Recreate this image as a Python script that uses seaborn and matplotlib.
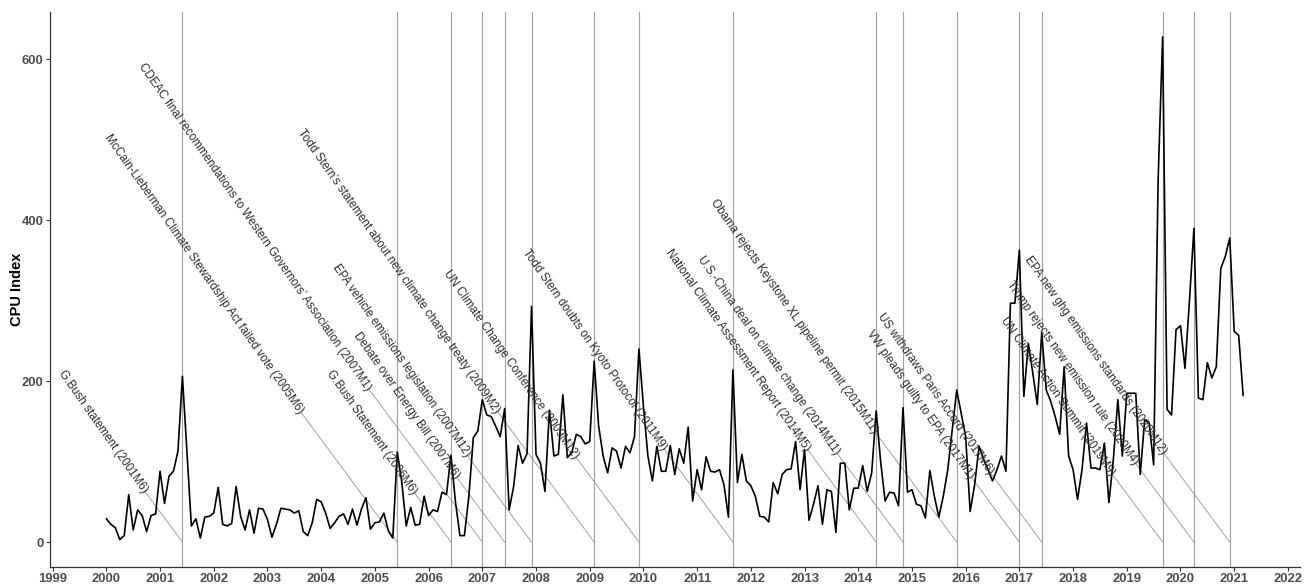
import numpy as np
import pandas as pd
import matplotlib
matplotlib.use("Agg")
import matplotlib.pyplot as plt
import seaborn as sns

# Monthly climate policy uncertainty index, 2000M1 onwards
start_year = 2000
cpu_index = [
    29, 22, 18, 3, 8, 59, 15, 40, 33, 13, 33, 35,
    88, 48, 82, 88, 113, 206, 113, 20, 29, 5, 31, 32,
    36, 68, 22, 20, 23, 69, 32, 15, 40, 11, 42, 41,
    28, 6, 22, 42, 41, 40, 36, 39, 13, 8, 24, 53,
    50, 36, 17, 24, 32, 35, 22, 41, 21, 41, 55, 16,
    24, 25, 36, 14, 5, 112, 75, 20, 43, 21, 22, 57,
    33, 40, 38, 62, 59, 108, 50, 8, 8, 57, 130, 138,
    177, 158, 156, 144, 131, 166, 40, 69, 120, 98, 110, 293,
    109, 98, 63, 164, 107, 109, 183, 105, 111, 134, 131, 122,
    125, 225, 144, 107, 86, 117, 113, 92, 119, 111, 131, 240,
    169, 107, 76, 119, 88, 88, 120, 84, 116, 98, 143, 51,
    90, 65, 106, 88, 87, 90, 71, 31, 214, 74, 109, 76,
    70, 57, 32, 31, 25, 74, 60, 84, 90, 91, 125, 65,
    115, 27, 47, 70, 22, 65, 63, 12, 98, 98, 40, 67,
    67, 95, 63, 86, 163, 100, 51, 62, 61, 45, 167, 62,
    65, 47, 45, 30, 89, 57, 31, 57, 90, 140, 189, 160,
    131, 38, 71, 119, 103, 90, 76, 90, 107, 88, 297, 297,
    363, 181, 247, 210, 171, 260, 189, 175, 156, 134, 218, 107,
    90, 53, 90, 148, 92, 92, 90, 123, 49, 103, 177, 107,
    185, 185, 185, 84, 152, 148, 96, 450, 628, 165, 158, 264,
    269, 216, 300, 390, 179, 177, 223, 204, 218, 340, 355, 378,
    262, 257, 182,
]

# Policy events marked on the chart
event_names = [
    "G.Bush statement",
    "McCain-Lieberman Climate Stewardship Act failed vote",
    "G.Bush Statement",
    "CDEAC final recommendations to Western Governors\u2019 Association",
    "Debate over Energy Bill",
    "EPA vehicle emissions legislation",
    "Todd Stern\u2019s statement about new climate change treaty",
    "UN Climate Change Conference",
    "Todd Stern doubts on Kyoto Protocol",
    "National Climate Assessment Report",
    "U.S.-China deal on climate change",
    "Obama rejects Keystone XL pipeline permit",
    "VW pleads guilty to EPA",
    "US withdraws Paris Accord",
    "UN Climate Action Summit",
    "Trump rejects new emission rule",
    "EPA new ghg emissions standards",
]
event_dates = [
    "2001M6", "2005M6", "2006M6", "2007M1", "2007M6", "2007M12",
    "2009M2", "2009M12", "2011M9", "2014M5", "2014M11", "2015M11",
    "2017M1", "2017M6", "2019M9", "2020M4", "2020M12",
]

# Layout of the annotation leaders: height of each label end, and leader slope
label_heights = [63, 161, 61, 190, 80, 107, 162, 105, 115, 115, 110, 136,
                 80, 86, 84, 98, 111]
leader_slope = 90.0  # index units per year


def to_year(code):
    y, m = code.split("M")
    return int(y) + (int(m) - 1) / 12.0


sns.set_theme(style="ticks")
plt.rcParams["font.family"] = ["Liberation Sans", "DejaVu Sans"]

W, H = 1312, 586
fig = plt.figure(figsize=(W / 100, H / 100), dpi=100)
left, right, top, bottom = 49.5, 1300, 11.7, 567.3
ax = fig.add_axes([left / W, (H - bottom) / H, (right - left) / W, (bottom - top) / H])

df = pd.DataFrame({
    "year": start_year + np.arange(len(cpu_index)) / 12.0,
    "CPU Index": cpu_index,
})

# event markers: vertical rules, leader segments and rotated labels
for name, code, h in zip(event_names, event_dates, label_heights):
    x0 = to_year(code)
    ax.axvline(x0, color="#a3a3a3", lw=0.85, zorder=1)
    xl = x0 - h / leader_slope
    ax.plot([x0, xl], [0, h], color="#8c8c8c", lw=0.55, zorder=1)
    ax.text(xl, h, f"{name} ({code})", rotation=-55, rotation_mode="anchor",
            ha="right", va="center", fontsize=8.4, color="#2e2e2e", zorder=3)

sns.lineplot(data=df, x="year", y="CPU Index", color="black", lw=1.2, ax=ax, zorder=2)

t0, t1 = df["year"].min(), df["year"].max()
pad = 0.05 * (t1 - t0)
ax.set_xlim(t0 - pad, t1 + pad)
ymax = max(cpu_index)
ax.set_ylim(-0.05 * ymax, ymax * 1.05)

ax.set_xticks(np.arange(1999, 2023))
ax.set_yticks([0, 200, 400, 600])
ax.set_xlabel("")
ax.set_ylabel("CPU Index", fontsize=10.5, fontweight="bold", color="black")
ax.yaxis.set_label_coords(-0.0205, 0.5)
ax.tick_params(axis="both", length=2.8, width=0.8, color="#333333", pad=1.5,
               labelsize=9.4, labelcolor="#4d4d4d")
for lab in ax.get_xticklabels() + ax.get_yticklabels():
    lab.set_fontweight("bold")

sns.despine(ax=ax)
for s in ("left", "bottom"):
    ax.spines[s].set_color("#333333")
    ax.spines[s].set_linewidth(0.9)

fig.savefig("out.png", dpi=100, facecolor="white")
